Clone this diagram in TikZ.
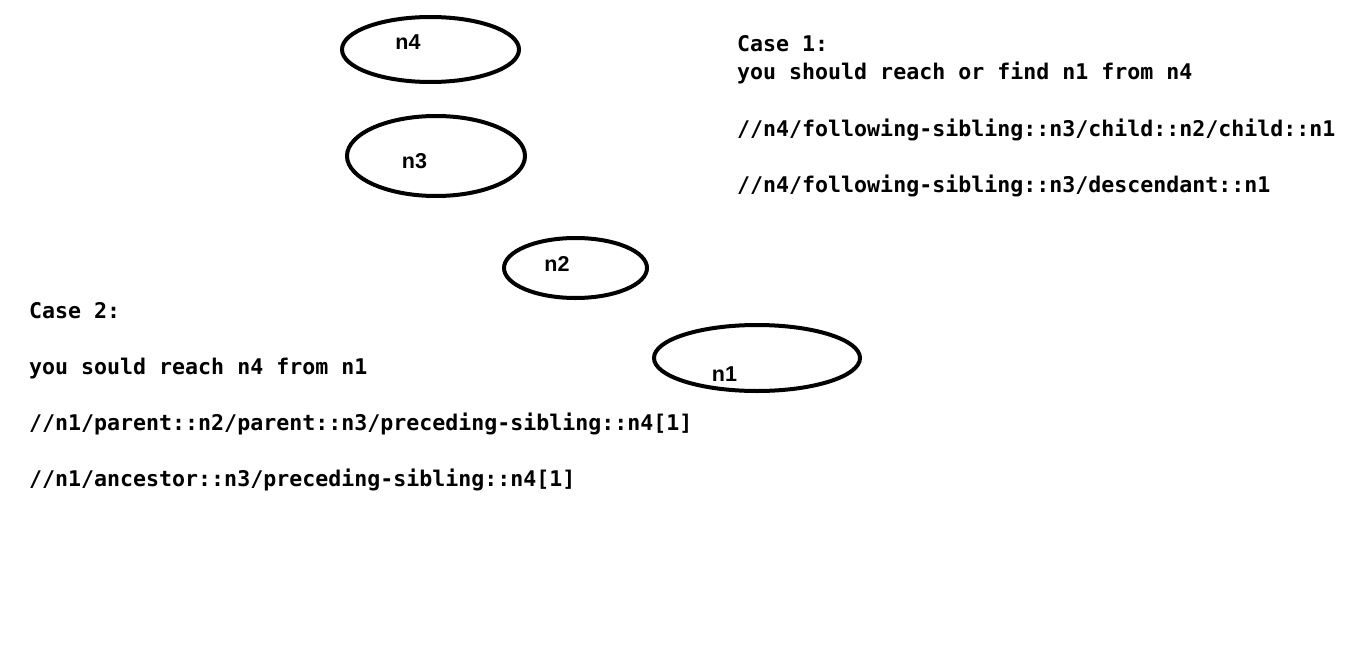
\documentclass[tikz,border=0pt]{standalone}
\usepackage{fontspec}
\usetikzlibrary{shapes.geometric}
\newfontfamily\codefont{DejaVu Sans Mono}
\newfontfamily\labelfont{Liberation Sans}
\begin{document}
\begin{tikzpicture}[x=1pt,y=-1pt,
  ring/.style={draw=black,line width=4pt,ellipse,inner sep=0pt},
  lbl/.style={inner sep=0pt,font=\labelfont\bfseries\fontsize{21.5}{24}\selectfont},
  code/.style={inner sep=0pt,anchor=base west,font=\codefont\bfseries\fontsize{21.6}{28}\selectfont}]
\useasboundingbox[fill=white] (0,0) rectangle (1348,658);
% ellipses
\node[ring,minimum width=177pt,minimum height=65pt] (e4) at (430.5,49.5) {};
\node[ring,minimum width=178pt,minimum height=80pt] (e3) at (436,156) {};
\node[ring,minimum width=143pt,minimum height=60pt] (e2) at (575.5,268) {};
\node[ring,minimum width=206pt,minimum height=66pt] (e1) at (757,358) {};
% labels
\node[lbl] (n4) at (408,42) {n4};
\node[lbl] (n3) at (414.5,161) {n3};
\node[lbl] (n2) at (557,264) {n2};
\node[lbl] (n1) at (724.5,374) {n1};
% case 1
\node[code] (c1a) at (737,52) {Case 1:};
\node[code] (c1b) at (737,80) {you should reach or find n1 from n4};
\node[code] (c1c) at (737,136) {//n4/following-sibling::n3/child::n2/child::n1};
\node[code] (c1d) at (737,192) {//n4/following-sibling::n3/descendant::n1};
% case 2
\node[code] (c2a) at (29,318) {Case 2:};
\node[code] (c2b) at (29,374) {you sould reach n4 from n1};
\node[code] (c2c) at (29,430) {//n1/parent::n2/parent::n3/preceding-sibling::n4[1]};
\node[code] (c2d) at (29,486) {//n1/ancestor::n3/preceding-sibling::n4[1]};
\end{tikzpicture}
\end{document}
